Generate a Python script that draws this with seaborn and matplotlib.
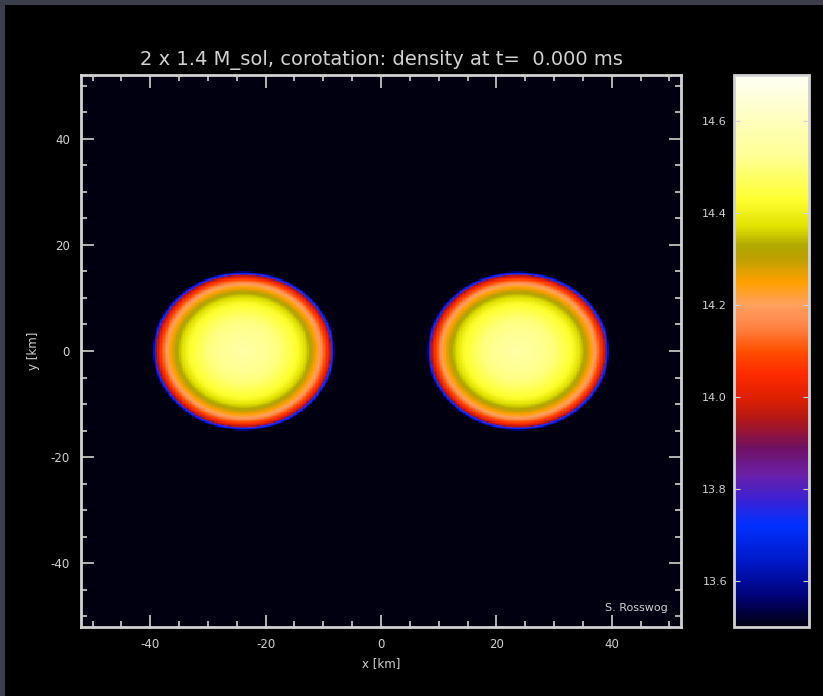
import numpy as np
import pandas as pd
import matplotlib
matplotlib.use("Agg")
import matplotlib.pyplot as plt
import seaborn as sns
from matplotlib.colors import LinearSegmentedColormap
from matplotlib.patches import Rectangle

# ---------------- data ----------------
star_x_centers = [-23.8, 23.8]          # km
star_y_centers = [0.0, 0.0]             # km
star_x_radii = [15.4, 15.4]             # km
star_y_radii = [14.6, 14.6]             # km
# radial profile of log10(density) versus normalised radius
profile_r = [0.0, 0.40, 0.62, 0.72, 0.76, 0.81, 0.86, 0.90, 0.94, 0.975, 0.995, 1.012, 1.028]
profile_logrho = [14.56, 14.50, 14.42, 14.35, 14.31, 14.26, 14.20, 14.13, 14.05, 13.95,
                  13.76, 13.62, 13.50]
background_logrho = 13.5

x_ticks = [-40, -20, 0, 20, 40]
y_ticks = [-40, -20, 0, 20, 40]
cbar_ticks = [13.6, 13.8, 14.0, 14.2, 14.4, 14.6]
vmin, vmax = 13.5, 14.7
x_lim = (-52.0, 52.0)
y_lim = (-52.0, 52.0)

cmap_levels = [13.50, 13.56, 13.64, 13.72, 13.78, 13.83, 13.89, 13.95, 14.00, 14.05,
               14.10, 14.15, 14.20, 14.25, 14.30, 14.33, 14.37, 14.43, 14.52, 14.70]
cmap_colors = ["#000010", "#000070", "#0018c8", "#0030ff", "#4020d0", "#6a20a8",
               "#701060", "#b01818", "#e02000", "#ff2a00", "#ff5000", "#ff8040",
               "#ffa060", "#ffa000", "#c0a000", "#b0a800", "#e0e000", "#ffff30",
               "#ffff90", "#fffff5"]

title = "2 x 1.4 M_sol, corotation: density at t=  0.000 ms"
x_label = "x [km]"
y_label = "y [km]"
credit = "S. Rosswog"

# ---------------- build the field ----------------
cell = 0.25
x_centers = np.arange(x_lim[0] + cell / 2, x_lim[1], cell)
y_centers = np.arange(y_lim[1] - cell / 2, y_lim[0], -cell)
X, Y = np.meshgrid(x_centers, y_centers)
field = np.full(X.shape, background_logrho)
for cx, cy, rx, ry in zip(star_x_centers, star_y_centers, star_x_radii, star_y_radii):
    s = np.sqrt(((X - cx) / rx) ** 2 + ((Y - cy) / ry) ** 2)
    val = np.interp(s, profile_r, profile_logrho, right=background_logrho)
    field = np.maximum(field, val)
df = pd.DataFrame(field, index=np.round(y_centers, 3), columns=np.round(x_centers, 3))

span = vmax - vmin
cmap = LinearSegmentedColormap.from_list(
    "idl_density", [((v - vmin) / span, c) for v, c in zip(cmap_levels, cmap_colors)])

# ---------------- figure ----------------
fg = "#d2d2d2"
W, H = 823, 696
fig = plt.figure(figsize=(W / 100, H / 100), dpi=100)
fig.patch.set_facecolor("#3b3e4a")
fig.add_artist(Rectangle((5 / W, 0), 1 - 5 / W, 1 - 5 / H, transform=fig.transFigure,
                         facecolor="black", edgecolor="none", zorder=0))

ax = fig.add_axes([81 / W, 1 - 627 / H, 600 / W, 552 / H])
cax = fig.add_axes([734 / W, 1 - 627 / H, 75 / W, 552 / H])

sns.heatmap(df, ax=ax, cbar_ax=cax, cmap=cmap, vmin=vmin, vmax=vmax,
            xticklabels=False, yticklabels=False, rasterized=True)


def xpos(v):
    return (np.asarray(v, dtype=float) - x_lim[0]) / cell


def ypos(v):
    return (y_lim[1] - np.asarray(v, dtype=float)) / cell


ax.set_xticks(xpos(x_ticks))
ax.set_xticklabels([str(t) for t in x_ticks])
ax.set_yticks(ypos(y_ticks))
ax.set_yticklabels([str(t) for t in y_ticks], rotation=0)
minor = np.arange(-50, 51, 5)
ax.set_xticks(xpos(minor), minor=True)
ax.set_yticks(ypos(minor), minor=True)
ax.tick_params(which="both", direction="in", top=True, right=True, color=fg,
               width=1.2, labelcolor=fg, labelsize=8.5, pad=8)
ax.tick_params(which="major", length=9)
ax.tick_params(which="minor", length=4.5)
for sp in ax.spines.values():
    sp.set_visible(True)
    sp.set_color(fg)
    sp.set_linewidth(2)

ax.set_xlabel(x_label, color=fg, fontsize=8.5, labelpad=4)
ax.set_ylabel(y_label, color=fg, fontsize=8.5, labelpad=8)
ax.set_title(title, color=fg, fontsize=14, pad=7)
ax.text(0.978, 0.035, credit, transform=ax.transAxes, ha="right", va="center",
        color=fg, fontsize=8)

cbar = ax.collections[0].colorbar
cbar.outline.set_edgecolor(fg)
cbar.outline.set_linewidth(2)
cbar.set_ticks(cbar_ticks)
cbar.set_ticklabels([f"{t:.1f}" for t in cbar_ticks])
cax.yaxis.set_ticks_position("left")
cax.yaxis.set_label_position("left")
cax.tick_params(direction="in", length=4, color=fg, labelcolor=fg, labelsize=8, pad=5,
                left=True, right=True, labelleft=True, labelright=False)

fig.savefig("out.png", dpi=100, facecolor=fig.get_facecolor())
